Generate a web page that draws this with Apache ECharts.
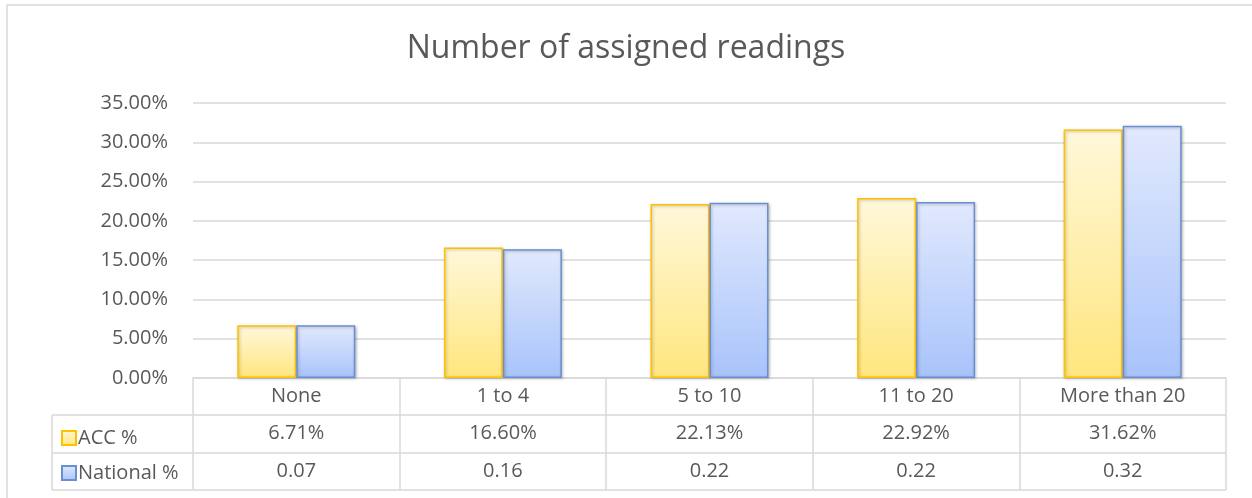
<!DOCTYPE html>
<html>
<head>
<meta charset="utf-8">
<script src="https://cdn.jsdelivr.net/npm/echarts@6/dist/echarts.min.js"></script>
<style>
html, body { margin: 0; padding: 0; background: #fff; }
#visual { width: 1252px; height: 498px; }
</style>
</head>
<body>
<div id="visual"></div>
<script>
// data
var categories = ['None', '1 to 4', '5 to 10', '11 to 20', 'More than 20'];
var accValues = [0.0671, 0.1660, 0.2213, 0.2292, 0.3162];
var nationalValues = [0.067, 0.164, 0.223, 0.224, 0.321];
var yTicks = [0, 0.05, 0.10, 0.15, 0.20, 0.25, 0.30, 0.35];

var chartDom = document.getElementById('visual');
var myChart = echarts.init(chartDom);

var textGray = '#595959';
var lineGray = '#d9d9d9';
var fontName = 'Open Sans';
var fs = 20;

var pct = function(v) { return (v * 100).toFixed(2) + '%'; };

var gridL = 193, gridR = 1226, gridT = 103, gridB = 378;
var row1 = 415, row2 = 453, row3 = 490, legendL = 52;

var tableLines = [
	[legendL, row1, gridR, row1],
	[legendL, row2, gridR, row2],
	[legendL, row3, gridR, row3],
	[legendL, row1, legendL, row3]
].map(function(p) {
	return {
		type: 'line',
		shape: { x1: p[0], y1: p[1], x2: p[2], y2: p[3] },
		style: { stroke: lineGray, lineWidth: 1.5 },
		silent: true
	};
});

var options = {
	animation: false,
	title: {
		text: 'Number of assigned readings',
		left: 'center',
		top: 28,
		textStyle: { color: textGray, fontFamily: fontName, fontSize: 32, fontWeight: 'normal' }
	},
	legend: {
		orient: 'vertical',
		left: 56,
		top: 423,
		itemGap: 15,
		itemWidth: 14,
		itemHeight: 14,
		icon: 'rect',
		textStyle: { color: textGray, fontFamily: fontName, fontSize: fs, padding: [0, 0, 0, -3] },
		data: ['ACC %', 'National %']
	},
	grid: { left: gridL, right: 1252 - gridR, top: gridT, bottom: 498 - gridB, containLabel: false },
	xAxis: [
		{
			type: 'category',
			data: categories,
			position: 'bottom',
			axisLine: { show: true, lineStyle: { color: lineGray, width: 1.5 } },
			axisTick: { show: true, interval: 0, length: row3 - gridB, lineStyle: { color: lineGray, width: 1.5 } },
			axisLabel: { color: textGray, fontFamily: fontName, fontSize: fs, margin: 8, interval: 0 }
		},
		{
			type: 'category',
			data: categories,
			position: 'bottom',
			offset: row1 - gridB,
			axisLine: { show: false },
			axisTick: { show: false },
			axisLabel: {
				color: textGray, fontFamily: fontName, fontSize: fs, margin: 8, interval: 0,
				formatter: function(v, i) { return pct(accValues[i]); }
			}
		},
		{
			type: 'category',
			data: categories,
			position: 'bottom',
			offset: row2 - gridB,
			axisLine: { show: false },
			axisTick: { show: false },
			axisLabel: {
				color: textGray, fontFamily: fontName, fontSize: fs, margin: 8, interval: 0,
				formatter: function(v, i) { return nationalValues[i].toFixed(2); }
			}
		}
	],
	yAxis: {
		type: 'value',
		min: yTicks[0],
		max: yTicks[yTicks.length - 1],
		interval: 0.05,
		axisLine: { show: false },
		axisTick: { show: false },
		splitLine: { lineStyle: { color: lineGray, width: 1.5 } },
		axisLabel: { color: textGray, fontFamily: fontName, fontSize: fs, margin: 25, formatter: pct }
	},
	series: [
		{
			name: 'ACC %',
			type: 'bar',
			xAxisIndex: 0,
			data: accValues,
			barWidth: 59,
			barGap: '0%',
			itemStyle: {
				color: new echarts.graphic.LinearGradient(0, 0, 0, 1, [
					{ offset: 0, color: '#fff8da' },
					{ offset: 1, color: '#ffe67e' }
				]),
				borderColor: '#ffc000',
				borderWidth: 1.5,
				shadowBlur: 3,
				shadowColor: 'rgba(0,0,0,0.25)',
				shadowOffsetX: 1,
				shadowOffsetY: 1
			}
		},
		{
			name: 'National %',
			type: 'bar',
			xAxisIndex: 0,
			data: nationalValues,
			barWidth: 59,
			barGap: '0%',
			itemStyle: {
				color: new echarts.graphic.LinearGradient(0, 0, 0, 1, [
					{ offset: 0, color: '#e1e9fd' },
					{ offset: 1, color: '#a8c3fb' }
				]),
				borderColor: '#6a8fd0',
				borderWidth: 1.5,
				shadowBlur: 3,
				shadowColor: 'rgba(0,0,0,0.25)',
				shadowOffsetX: 1,
				shadowOffsetY: 1
			}
		}
	],
	graphic: [
		{
			type: 'rect',
			shape: { x: 7, y: 5, width: 1260, height: 510 },
			style: { fill: null, stroke: lineGray, lineWidth: 1.5 },
			silent: true,
			z: -10
		}
	].concat(tableLines)
};

myChart.setOption(options);
</script>
</body>
</html>
